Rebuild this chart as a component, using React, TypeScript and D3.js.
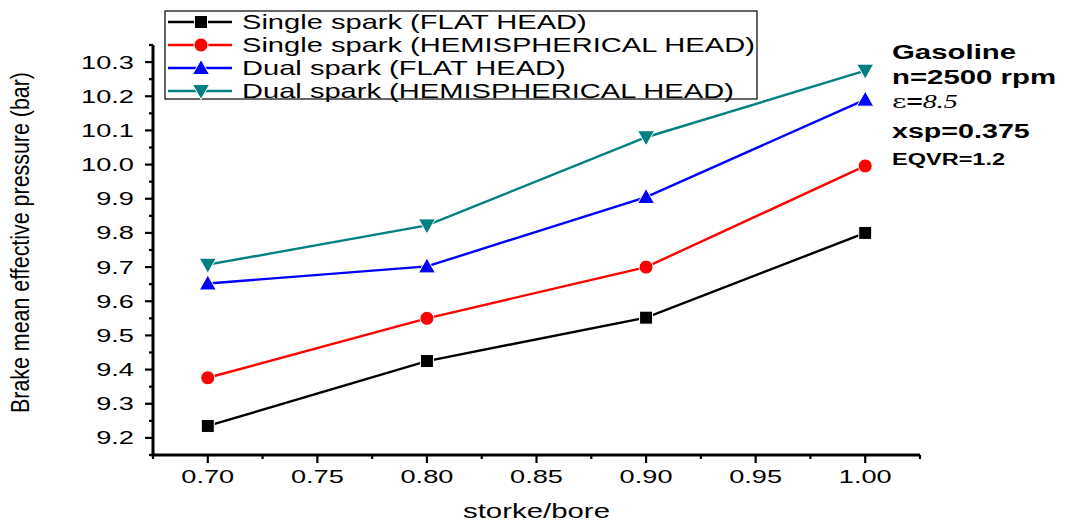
import React from "react";
import * as d3 from "d3";

const xValues = [0.7, 0.8, 0.9, 1.0];
const singleFlat = [9.235, 9.425, 9.552, 9.8];
const singleHemi = [9.376, 9.55, 9.7, 9.996];
const dualFlat = [9.652, 9.702, 9.905, 10.19];
const dualHemi = [9.707, 9.822, 10.08, 10.275];
const seriesNames = [
  "Single spark (FLAT HEAD)",
  "Single spark (HEMISPHERICAL HEAD)",
  "Dual spark (FLAT HEAD)",
  "Dual spark (HEMISPHERICAL HEAD)",
];
const seriesColors = ["#000000", "#ff0000", "#0000ff", "#008080"];
const seriesSymbols = ["square", "circle", "triangleUp", "triangleDown"];
const xTicks = [0.7, 0.75, 0.8, 0.85, 0.9, 0.95, 1.0];
const yTicks = [9.2, 9.3, 9.4, 9.5, 9.6, 9.7, 9.8, 9.9, 10.0, 10.1, 10.2, 10.3];
const notes = ["Gasoline", "n=2500 rpm", "ε=8.5", "xsp=0.375", "EQVR=1.2"];

const W = 1066;
const H = 524;
const left = 153;
const right = 920;
const top = 45;
const bottom = 455;
const SX = 1.47;

function Marker({ type, x, y, color }: { type: string; x: number; y: number; color: string }) {
  if (type === "square") return <rect x={x - 6.5} y={y - 6.5} width={13} height={13} fill={color} stroke="#fff" strokeWidth={1} />;
  if (type === "circle") return <circle cx={x} cy={y} r={7} fill={color} stroke="#fff" strokeWidth={1} />;
  if (type === "triangleUp")
    return <path d={`M${x},${y - 8.5}L${x + 8.5},${y + 6.5}L${x - 8.5},${y + 6.5}Z`} fill={color} stroke="#fff" strokeWidth={1} />;
  return <path d={`M${x},${y + 8.5}L${x + 8.5},${y - 6.5}L${x - 8.5},${y - 6.5}Z`} fill={color} stroke="#fff" strokeWidth={1} />;
}

function SText({
  x,
  y,
  size,
  anchor = "start",
  bold = false,
  sx = SX,
  children,
}: {
  x: number;
  y: number;
  size: number;
  anchor?: string;
  bold?: boolean;
  sx?: number;
  children: React.ReactNode;
}) {
  return (
    <text
      transform={`translate(${x},${y}) scale(${sx},1)`}
      textAnchor={anchor}
      fontSize={size}
      fontWeight={bold ? "bold" : "normal"}
    >
      {children}
    </text>
  );
}

export default function App() {
  const x = d3.scaleLinear().domain([0.675, 1.025]).range([left, right]);
  const y = d3.scaleLinear().domain([9.15, 10.35]).range([bottom, top]);
  const data = [singleFlat, singleHemi, dualFlat, dualHemi];
  const line = d3
    .line<number>()
    .x((_, i) => x(xValues[i]))
    .y((d) => y(d));
  const xMinor = d3.range(0.675, 1.03, 0.05).map((v) => +v.toFixed(3));
  const yMinor = d3.range(9.15, 10.36, 0.1).map((v) => +v.toFixed(3));
  const font = "Arial, 'Liberation Sans', sans-serif";

  return (
    <svg width={W} height={H} style={{ position: "absolute", left: 0, top: 0 }} fontFamily={font}>
      <rect width={W} height={H} fill="#fff" />
      {/* axes */}
      <line x1={left} y1={top} x2={left} y2={bottom + 1.5} stroke="#000" strokeWidth={3} />
      <line x1={left - 1.5} y1={bottom} x2={right} y2={bottom} stroke="#000" strokeWidth={3} />
      {yTicks.map((t) => (
        <g key={"yt" + t}>
          <line x1={left - 8} x2={left} y1={y(t)} y2={y(t)} stroke="#000" strokeWidth={2.2} />
          <SText x={left - 19} y={y(t) + 6.5} size={18.5} anchor="end">
            {t.toFixed(1)}
          </SText>
        </g>
      ))}
      {yMinor.map((t) => (
        <line key={"ym" + t} x1={left - 4} x2={left} y1={y(t)} y2={y(t)} stroke="#000" strokeWidth={2.2} />
      ))}
      {xTicks.map((t) => (
        <g key={"xt" + t}>
          <line x1={x(t)} x2={x(t)} y1={bottom} y2={bottom + 8} stroke="#000" strokeWidth={2.2} />
          <SText x={x(t)} y={bottom + 28} size={18.5} anchor="middle">
            {t.toFixed(2)}
          </SText>
        </g>
      ))}
      {xMinor.map((t) => (
        <line key={"xm" + t} x1={x(t)} x2={x(t)} y1={bottom} y2={bottom + 4} stroke="#000" strokeWidth={2.2} />
      ))}
      <SText x={(left + right) / 2} y={518} size={20} anchor="middle">
        storke/bore
      </SText>
      <text
        transform={`translate(29,${(72 + 413) / 2}) scale(1.25,1) rotate(-90)`}
        textAnchor="middle"
        fontSize={21}
        fontFamily="'Liberation Sans Narrow', 'Arial Narrow', Arial, sans-serif"
        textLength={341}
        lengthAdjust="spacingAndGlyphs"
      >
        Brake mean effective pressure (bar)
      </text>
      {/* series */}
      {data.map((s, si) => (
        <g key={"s" + si}>
          <path d={line(s) || ""} fill="none" stroke={seriesColors[si]} strokeWidth={2.4} />
          {s.map((v, i) => (
            <Marker key={i} type={seriesSymbols[si]} x={x(xValues[i])} y={y(v)} color={seriesColors[si]} />
          ))}
        </g>
      ))}
      {/* legend */}
      <rect x={165} y={11} width={592} height={88} fill="#fff" stroke="#000" strokeWidth={1.2} />
      {seriesNames.map((n, i) => {
        const ly = 22 + i * 23;
        return (
          <g key={"l" + i}>
            <line x1={168} x2={232} y1={ly} y2={ly} stroke={seriesColors[i]} strokeWidth={2.4} />
            <Marker type={seriesSymbols[i]} x={201} y={ly} color={seriesColors[i]} />
            <SText x={242} y={ly + 7} size={20} sx={1.455}>
              {n}
            </SText>
          </g>
        );
      })}
      {/* annotations */}
      <SText x={892} y={59} size={20} bold>{notes[0]}</SText>
      <SText x={892} y={84} size={20} bold>{notes[1]}</SText>
      <text transform={`translate(892,108) scale(${SX},1)`} fontSize={19}>
        <tspan fontFamily="'DejaVu Serif', serif">ε</tspan>
        <tspan fontWeight="bold">=</tspan>
        <tspan fontFamily="'Liberation Serif', serif" fontStyle="italic">8.5</tspan>
      </text>
      <SText x={892} y={138} size={19.5} bold>{notes[3]}</SText>
      <SText x={892} y={165} size={16} bold>{notes[4]}</SText>
    </svg>
  );
}
